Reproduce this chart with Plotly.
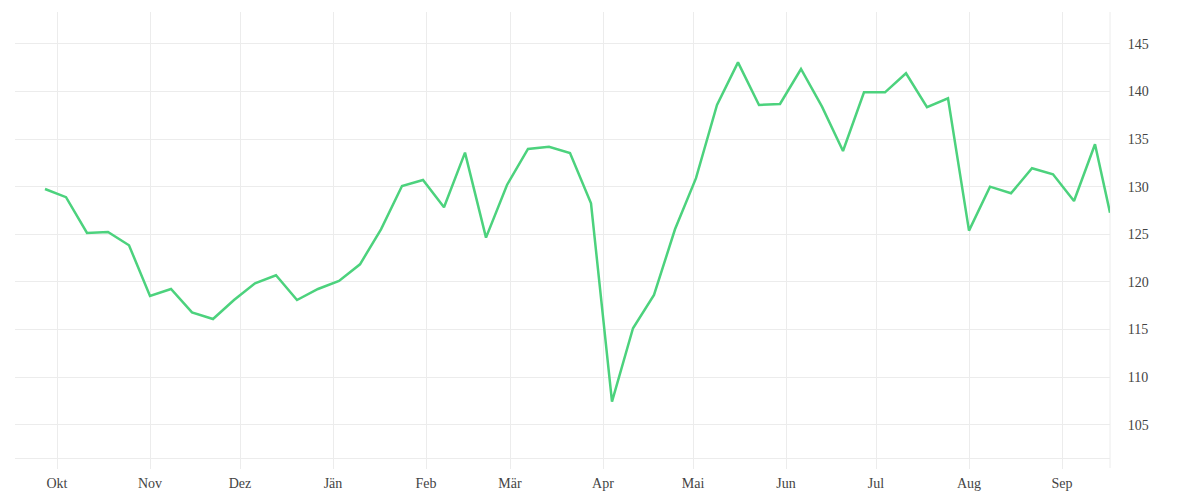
import plotly.graph_objects as go

dates = [
    "2022-09-27", "2022-10-04", "2022-10-11", "2022-10-18", "2022-10-25",
    "2022-11-01", "2022-11-08", "2022-11-15", "2022-11-22", "2022-11-29",
    "2022-12-06", "2022-12-13", "2022-12-20", "2022-12-27", "2023-01-03",
    "2023-01-10", "2023-01-17", "2023-01-24", "2023-01-31", "2023-02-07",
    "2023-02-14", "2023-02-21", "2023-02-28", "2023-03-07", "2023-03-14",
    "2023-03-21", "2023-03-28", "2023-04-04", "2023-04-11", "2023-04-18",
    "2023-04-25", "2023-05-02", "2023-05-09", "2023-05-16", "2023-05-23",
    "2023-05-30", "2023-06-06", "2023-06-13", "2023-06-20", "2023-06-27",
    "2023-07-04", "2023-07-11", "2023-07-18", "2023-07-25", "2023-08-01",
    "2023-08-08", "2023-08-15", "2023-08-22", "2023-08-29", "2023-09-05",
    "2023-09-12", "2023-09-17",
]
values = [
    129.76, 128.9, 125.14, 125.25, 123.85,
    118.52, 119.26, 116.8, 116.1, 118.1,
    119.85, 120.7, 118.1, 119.26, 120.1,
    121.85, 125.53, 130.08, 130.71, 127.84,
    133.58, 124.65, 130.19, 133.97, 134.21,
    133.55, 128.26, 107.42, 115.13, 118.63,
    125.53, 130.9, 138.6, 143.07, 138.59,
    138.7, 142.37, 138.42, 133.76, 139.92,
    139.92, 141.92, 138.35, 139.29, 125.39,
    130.01, 129.31, 131.94, 131.31, 128.5,
    134.46, 127.28,
]
tick_dates = [
    "2022-10-01", "2022-11-01", "2022-12-01", "2023-01-01", "2023-02-01",
    "2023-03-01", "2023-04-01", "2023-05-01", "2023-06-01", "2023-07-01",
    "2023-08-01", "2023-09-01",
]
tick_labels = ["Okt", "Nov", "Dez", "Jän", "Feb", "Mär", "Apr", "Mai", "Jun", "Jul", "Aug", "Sep"]
y_ticks = [105, 110, 115, 120, 125, 130, 135, 140, 145]

GRID = "#ececec"
FONT = dict(family="Liberation Serif, serif", size=14, color="#444")

fig = go.Figure()
fig.add_trace(go.Scatter(
    x=dates, y=values, mode="lines",
    line=dict(color="#4cd27d", width=2.5),
    hoverinfo="x+y", showlegend=False,
))

fig.update_layout(
    width=1200, height=500,
    margin=dict(l=7, r=98, t=4, b=50),
    paper_bgcolor="white", plot_bgcolor="white",
    font=FONT,
    xaxis=dict(
        range=["2022-09-17", "2023-09-17"],
        tickvals=tick_dates, ticktext=tick_labels,
        showgrid=True, gridcolor=GRID, gridwidth=1,
        ticks="outside", ticklen=10, tickcolor=GRID, tickwidth=1,
        showline=True, linecolor=GRID, linewidth=1,
        zeroline=False, ticklabelstandoff=2,
    ),
    yaxis=dict(
        range=[101.5, 148.36], side="right",
        tickvals=y_ticks,
        showgrid=True, gridcolor=GRID, gridwidth=1,
        showline=False, zeroline=False,
        ticks="outside", ticklen=14, tickcolor="rgba(0,0,0,0)",
    ),
    shapes=[dict(
        type="line", xref="paper", yref="paper",
        x0=1, x1=1, y0=-10 / 446, y1=1,
        line=dict(color=GRID, width=1), layer="below",
    )],
)

fig.write_html("out.html")
